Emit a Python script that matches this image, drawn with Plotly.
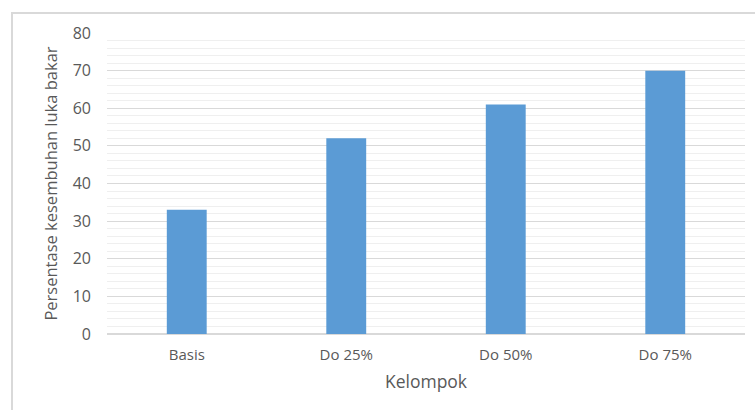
import plotly.graph_objects as go

categories = ["Basis", "Do 25%", "Do 50%", "Do 75%"]
values = [33, 52, 61, 70]
y_ticks = [0, 10, 20, 30, 40, 50, 60, 70, 80]

W, H = 755, 410
L, R, T, B = 107, 10, 33, 76
pw = W - L - R
ph = H - T - B

fig = go.Figure(go.Bar(x=categories, y=values, marker=dict(color="#5b9bd5", line=dict(width=0)), width=0.25))

fig.update_layout(
    width=W, height=H,
    margin=dict(l=L, r=R, t=T, b=B),
    paper_bgcolor="white", plot_bgcolor="white",
    font=dict(family="Open Sans", color="#595959"),
    showlegend=False,
    xaxis=dict(
        title=dict(text="Kelompok", font=dict(size=17.5, color="#595959"), standoff=12),
        tickfont=dict(size=15, color="#595959"),
        showgrid=False, showline=False, zeroline=False, ticks="", ticklabelstandoff=10,
    ),
    yaxis=dict(
        range=[0, 80], tickvals=y_ticks,
        title=dict(text="Persentase kesembuhan luka bakar", font=dict(size=16.5, color="#595959"), standoff=10),
        tickfont=dict(size=16, color="#595959"),
        showgrid=True, gridcolor="#d9d9d9", gridwidth=1,
        minor=dict(dtick=2, showgrid=True, gridcolor="#efefef", gridwidth=1),
        zeroline=True, zerolinecolor="#d9d9d9", zerolinewidth=1.5,
        showline=False, ticks="", ticklabelstandoff=15,
    ),
    shapes=[dict(
        type="rect", xref="paper", yref="paper",
        x0=(12 - L) / pw, x1=1.2,
        y0=-1.0, y1=(H - B - 13) / ph,
        line=dict(color="#d9d9d9", width=2), fillcolor="rgba(0,0,0,0)", layer="below",
    )],
)

fig.write_html("out.html")
